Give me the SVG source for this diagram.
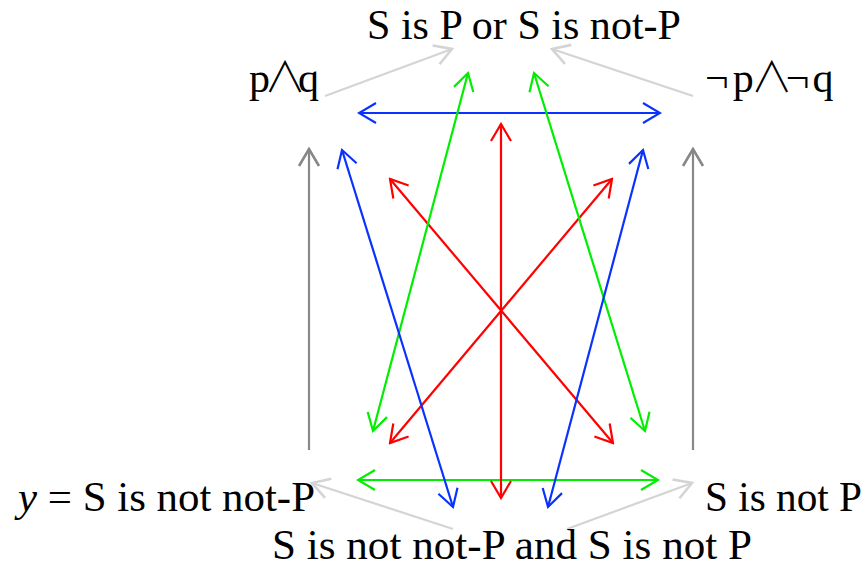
<svg xmlns="http://www.w3.org/2000/svg" width="868" height="568" viewBox="0 0 868 568">
<style>
text{font-family:"Liberation Serif","Times New Roman","DejaVu Serif",serif;font-size:42px;fill:#000}
text.op{font-family:"Liberation Serif","Noto Sans CJK JP","DejaVu Sans",serif;font-weight:300}
.c line{fill:none;stroke-width:2.2}
.r{stroke:#ff0000}
.g{stroke:#00ee00}
.b{stroke:#0a32ff}
.k{stroke:#888888;stroke-width:2.6}
.l{stroke:#d4d4d4;stroke-width:2.6}
</style>
<defs>
<marker id="mr" viewBox="-20 -12 22 24" markerWidth="22" markerHeight="24" markerUnits="userSpaceOnUse" refX="0" refY="0" orient="auto-start-reverse"><path d="M-17,-10 L0,0 L-17,10" fill="none" stroke="#ff0000" stroke-width="2.2"/></marker>
<marker id="mg" viewBox="-20 -12 22 24" markerWidth="22" markerHeight="24" markerUnits="userSpaceOnUse" refX="0" refY="0" orient="auto-start-reverse"><path d="M-17,-10 L0,0 L-17,10" fill="none" stroke="#00ee00" stroke-width="2.2"/></marker>
<marker id="mb" viewBox="-20 -12 22 24" markerWidth="22" markerHeight="24" markerUnits="userSpaceOnUse" refX="0" refY="0" orient="auto-start-reverse"><path d="M-17,-10 L0,0 L-17,10" fill="none" stroke="#0a32ff" stroke-width="2.2"/></marker>
<marker id="mk" viewBox="-20 -12 22 24" markerWidth="22" markerHeight="24" markerUnits="userSpaceOnUse" refX="0" refY="0" orient="auto-start-reverse"><path d="M-17,-10 L0,0 L-17,10" fill="none" stroke="#888888" stroke-width="2.6"/></marker>
<marker id="ml" viewBox="-20 -12 22 24" markerWidth="22" markerHeight="24" markerUnits="userSpaceOnUse" refX="0" refY="0" orient="auto-start-reverse"><path d="M-17,-10 L0,0 L-17,10" fill="none" stroke="#d4d4d4" stroke-width="2.6"/></marker>
</defs>
<g id="connectors" class="c">
<line class="l" x1="325" y1="96" x2="452" y2="49" marker-end="url(#ml)"/>
<line class="l" x1="693" y1="96" x2="552" y2="49" marker-end="url(#ml)"/>
<line class="l" x1="453" y1="529" x2="312" y2="483" marker-end="url(#ml)"/>
<line class="l" x1="567" y1="529" x2="692" y2="483" marker-end="url(#ml)"/>
<line class="k" x1="309" y1="450" x2="309" y2="149" marker-end="url(#mk)"/>
<line class="k" x1="693" y1="450" x2="693" y2="149" marker-end="url(#mk)"/>
<line class="b" x1="359" y1="113" x2="660" y2="113" marker-start="url(#mb)" marker-end="url(#mb)"/>
<line class="g" x1="358" y1="480" x2="658" y2="480" marker-start="url(#mg)" marker-end="url(#mg)"/>
<line class="r" x1="501" y1="124" x2="501" y2="498" marker-start="url(#mr)" marker-end="url(#mr)"/>
<line class="r" x1="390" y1="179" x2="613" y2="443" marker-start="url(#mr)" marker-end="url(#mr)"/>
<line class="r" x1="612" y1="179" x2="390" y2="443" marker-start="url(#mr)" marker-end="url(#mr)"/>
<line class="g" x1="468" y1="73" x2="373" y2="431" marker-start="url(#mg)" marker-end="url(#mg)"/>
<line class="g" x1="534" y1="73" x2="645" y2="431" marker-start="url(#mg)" marker-end="url(#mg)"/>
<line class="b" x1="342" y1="150" x2="453" y2="507" marker-start="url(#mb)" marker-end="url(#mb)"/>
<line class="b" x1="643" y1="150" x2="548" y2="507" marker-start="url(#mb)" marker-end="url(#mb)"/>
</g>
<g id="top"><text x="367" y="39" textLength="314" lengthAdjust="spacingAndGlyphs">S is P or S is not-P</text></g>
<g id="pq"><text class="op" x="249" y="92" dx="0 -6 -8">p∧q</text></g>
<g id="npnq"><text class="op" x="705" y="92" dx="0 4 -3 -7 3">¬p∧¬q</text></g>
<g id="notnotP"><text x="18" y="511" textLength="297" lengthAdjust="spacingAndGlyphs"><tspan font-style="italic">y</tspan> = S is not not-P</text></g>
<g id="notP"><text x="705" y="511" textLength="157" lengthAdjust="spacingAndGlyphs">S is not P</text></g>
<g id="bottom"><text x="272" y="559" textLength="480" lengthAdjust="spacingAndGlyphs">S is not not-P and S is not P</text></g>
</svg>
